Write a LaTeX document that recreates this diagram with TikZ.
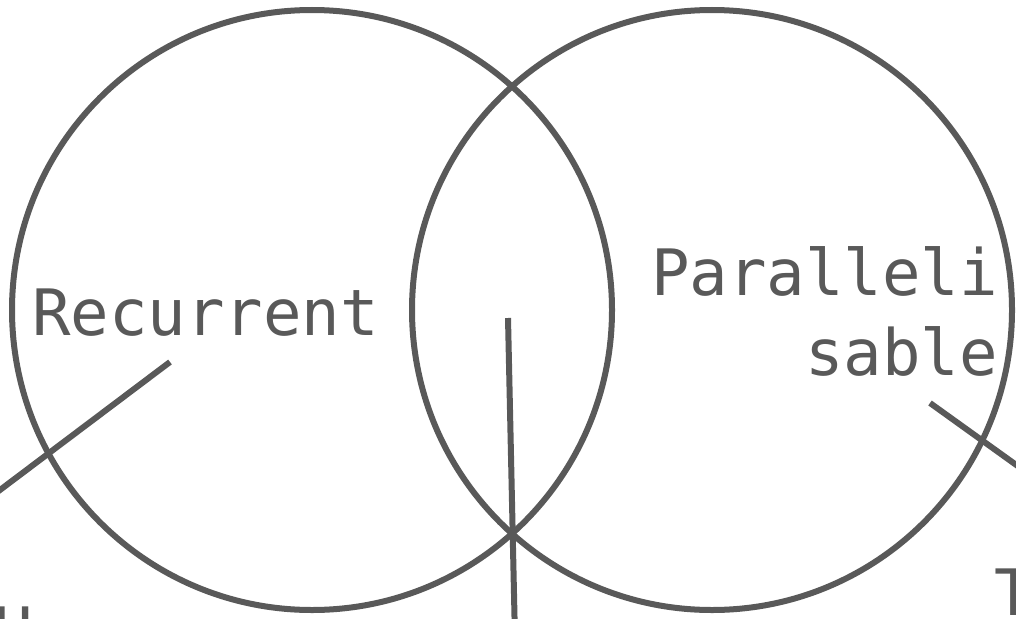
\documentclass[tikz,border=0pt]{standalone}
\usepackage{fontspec}
\setmonofont{DejaVu Sans Mono}
\definecolor{ink}{HTML}{595959}
\tikzset{
  ring/.style={draw=ink, line width=6pt},
  leader/.style={draw=ink, line width=6pt},
  lbl/.style={text=ink, font=\ttfamily\fontsize{64}{80}\selectfont, inner sep=0pt, outer sep=0pt}
}
\begin{document}
\begin{tikzpicture}[x=1pt,y=-1pt]
\useasboundingbox (0,0) rectangle (1016,618);
\clip (0,0) rectangle (1016,618);
\draw[ring] (312,310) circle[radius=300];
\draw[ring] (712,310) circle[radius=300];
\node[lbl, anchor=base west] (rec) at (32,335) {Recurrent};
\node[lbl, anchor=base east, align=right] (par) at (998,375) {Paralleli\\sable};
\node[lbl, anchor=north] (bl) at (14,607) {H};
\node[lbl, anchor=north] (br) at (1014,569) {T};
\coordinate (a1) at (170,362);
\coordinate (a2) at (-20,505);
\coordinate (m1) at (508,318);
\coordinate (m2) at (515,640);
\coordinate (r1) at (930,403);
\coordinate (r2) at (1040,482);
\draw[leader] (a1) -- (a2);
\draw[leader] (m1) -- (m2);
\draw[leader] (r1) -- (r2);
\end{tikzpicture}
\end{document}
